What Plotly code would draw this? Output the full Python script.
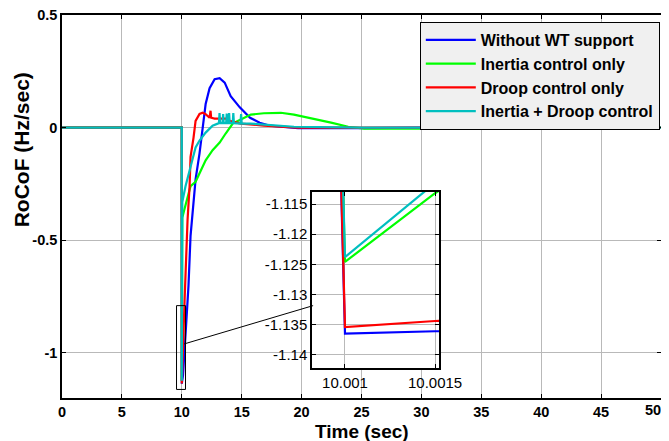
import plotly.graph_objects as go

# ---- data ----
time_blue = [0, 10.0, 10.001, 10.0015, 10.1, 10.31, 10.56, 10.73, 10.98, 11.15, 11.48, 11.74,
             11.99, 12.32, 12.74, 13.16, 13.58, 14.08, 14.84, 15.7, 16.5, 17.3, 19.7, 25.0, 30.0, 50]
blue = [0, 0, -1.1365, -1.1361, -1.10, -0.92, -0.70, -0.48, -0.33, -0.23, -0.114, 0.0,
        0.105, 0.175, 0.215, 0.22, 0.20, 0.14, 0.09, 0.044, 0.022, 0.009, -0.002, -0.002, 0, 0]

time_green = [0, 10.0, 10.001, 10.0015, 10.04, 10.23, 10.48, 10.73, 11.15, 11.57, 11.99, 12.57,
              13.16, 13.66, 14.25, 14.67, 15.76, 16.85, 18.27, 19.36, 21.04, 22.46, 23.89, 25.23,
              30.4, 30.8, 50]
green = [0, 0, -1.1246, -1.1132, -0.40, -0.36, -0.31, -0.26, -0.24, -0.19, -0.145, -0.10,
         -0.066, -0.026, 0.018, 0.03, 0.058, 0.064, 0.066, 0.058, 0.04, 0.022, 0.004, -0.004,
         -0.005, 0, 0]

time_red = [0, 10.0, 10.001, 10.0015, 10.1, 10.23, 10.31, 10.48, 10.65, 10.73, 10.98, 11.15,
            11.48, 11.74, 11.99, 12.32, 12.4, 12.45, 12.74, 13.16, 13.66, 14.0, 14.92, 16.85,
            19.7, 50]
red = [0, 0, -1.1354, -1.1344, -0.98, -0.77, -0.63, -0.41, -0.26, -0.13, -0.044, 0.03,
       0.061, 0.066, 0.06, 0.044, 0.075, 0.044, 0.04, 0.04, 0.04, 0.03, 0.018, 0.009,
       0, 0]

time_cyan = [0, 10.0, 10.001, 10.0015, 10.04, 10.31, 10.65, 10.9, 11.15, 11.48, 11.99, 12.57,
             13.0, 13.1, 13.15, 13.2, 13.4, 13.45, 13.5, 13.7, 13.75, 13.8, 13.9, 13.95, 14.0,
             14.25, 14.3, 14.35, 14.9, 14.95, 15.0, 15.76, 19.36, 25.2, 50]
cyan = [0, 0, -1.1238, -1.1115, -0.33, -0.26, -0.19, -0.13, -0.088, -0.057, -0.022, 0.009,
        0.02, 0.02, 0.065, 0.02, 0.02, 0.06, 0.02, 0.02, 0.062, 0.02, 0.02, 0.065, 0.02,
        0.02, 0.065, 0.02, 0.018, 0.06, 0.018, 0.018, 0.004, 0, 0]

series_names = ["Without WT support", "Inertia control only", "Droop control only",
                "Inertia + Droop control"]
series_colors = ["#0000ff", "#00ff00", "#ff0000", "#00bfbf"]

x_ticks = [0, 5, 10, 15, 20, 25, 30, 35, 40, 45, 50]
x_ticklabels = ["0", "5", "10", "15", "20", "25", "30", "35", "40", "45", ""]
last_x_label = "50"   # drawn right-aligned at the edge so it stays visible
y_ticks = [-1, -0.5, 0, 0.5]
y_ticklabels = ["-1", "-0.5", "0", "0.5"]
inset_x_ticks = [10.001, 10.0015]
inset_x_labels = ["10.001", "10.0015"]
inset_y_ticks = [-1.115, -1.12, -1.125, -1.13, -1.135, -1.14]
inset_y_labels = ["-1.115", "-1.12", "-1.125", "-1.13", "-1.135", "-1.14"]

x_title = "Time (sec)"
y_title = "RoCoF (Hz/sec)"

main_x_range = [0, 50]
main_y_range = [-1.2, 0.5]
inset_x_range = [10.000817, 10.001522]
inset_y_range = [-1.1422, -1.1130]

# zoom marker (rectangle around the zoomed region and connector to inset)
zoom_box = dict(x0=9.56, x1=10.31, y0=-1.162, y1=-0.79)
connector = dict(x0=10.2, y0=-0.96, x1=20.96, y1=-0.79)

FONT = "Liberation Sans, Arial, sans-serif"
GRID = "#b9b9b9"

fig = go.Figure()
all_t = [time_blue, time_green, time_red, time_cyan]
all_v = [blue, green, red, cyan]
for i, (t, v) in enumerate(zip(all_t, all_v)):
    fig.add_trace(go.Scatter(x=t, y=v, mode="lines", name=series_names[i],
                             line=dict(color=series_colors[i], width=2.2),
                             xaxis="x", yaxis="y"))
for i, (t, v) in enumerate(zip(all_t, all_v)):
    fig.add_trace(go.Scatter(x=t, y=v, mode="lines", showlegend=False,
                             line=dict(color=series_colors[i], width=2.2),
                             xaxis="x2", yaxis="y2"))

common_axis = dict(ticks="inside", ticklen=4, tickcolor="black", mirror="ticks",
                   showline=True, linecolor="black", linewidth=1.5,
                   showgrid=True, gridcolor=GRID, gridwidth=1, zeroline=False,
                   automargin=False, ticklabeloverflow="allow")

# the page body adds an 8px offset; margins put the plot where the reference has it
fig.update_layout(
    width=661, height=433,
    margin=dict(l=54, r=8, t=7, b=43),
    paper_bgcolor="white", plot_bgcolor="white",
    font=dict(family=FONT, color="black"),
    showlegend=True,
    legend=dict(x=0.998, y=0.982, xanchor="right", yanchor="top",
                bgcolor="#f0f0f0", bordercolor="black", borderwidth=1,
                font=dict(size=16, weight="bold", family=FONT),
                itemwidth=50),
    xaxis=dict(domain=[0, 1], range=main_x_range, tickvals=x_ticks, ticktext=x_ticklabels,
               tickfont=dict(size=14.5, weight="bold"), **common_axis),
    yaxis=dict(domain=[0, 1], range=main_y_range, tickvals=y_ticks, ticktext=y_ticklabels,
               tickfont=dict(size=14.5, weight="bold"), **common_axis),
    xaxis2=dict(domain=[0.4174, 0.6294], range=inset_x_range, anchor="y2",
                tickvals=inset_x_ticks, ticktext=inset_x_labels,
                tickfont=dict(size=15), **common_axis),
    yaxis2=dict(domain=[0.0783, 0.5379], range=inset_y_range, anchor="x2",
                tickvals=inset_y_ticks, ticktext=inset_y_labels,
                tickfont=dict(size=15), **common_axis),
    shapes=[
        dict(type="rect", xref="x", yref="y", line=dict(color="black", width=1),
             fillcolor="rgba(0,0,0,0)", **zoom_box),
        dict(type="line", xref="x", yref="y", line=dict(color="black", width=1),
             **connector),
    ],
    annotations=[
        dict(text=x_title, xref="paper", yref="paper", x=0.5, y=-0.087,
             xanchor="center", yanchor="middle", showarrow=False,
             font=dict(size=19, weight="bold", family=FONT)),
        dict(text=y_title, xref="paper", yref="paper", x=-54 / 599, y=0.648,
             xanchor="left", yanchor="middle", showarrow=False, textangle=-90,
             font=dict(size=21, weight="bold", family=FONT)),
        dict(text=last_x_label, xref="x", yref="paper", x=main_x_range[1], y=-0.031,
             xanchor="right", yanchor="middle", showarrow=False, xshift=2,
             font=dict(size=14.5, weight="bold", family=FONT)),
    ],
)

fig.write_html("out.html")
